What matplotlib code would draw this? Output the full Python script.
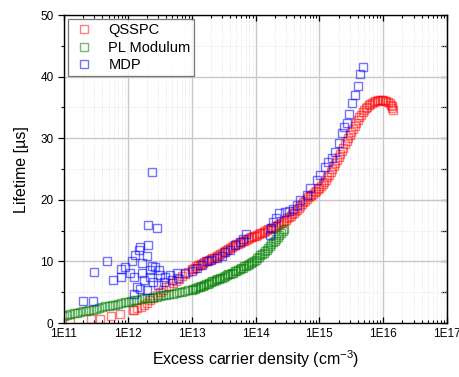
import numpy as np
import matplotlib
matplotlib.use('Agg')
import matplotlib.pyplot as plt
from matplotlib.ticker import FixedLocator, FuncFormatter, MultipleLocator

plt.rcParams['font.family'] = ['Liberation Sans', 'DejaVu Sans']
plt.rcParams['mathtext.default'] = 'regular'

# QSSPC: log10(density), lifetime [us]
qsspc_logn = [11.09, 11.43, 11.56, 11.73, 11.87, 12.08,
              12.10, 12.15, 12.20, 12.25, 12.30, 12.35, 12.40, 12.45, 12.50, 12.55,
              12.60, 12.65, 12.70, 12.75, 12.80, 12.85, 12.90, 12.95,
              13.000, 13.025, 13.050, 13.075, 13.100, 13.125, 13.150, 13.175,
              13.200, 13.225, 13.250, 13.275, 13.300, 13.325, 13.350, 13.375,
              13.400, 13.425, 13.450, 13.475, 13.500, 13.525, 13.550, 13.575,
              13.600, 13.625, 13.650, 13.675, 13.700, 13.725, 13.750, 13.775,
              13.800, 13.825, 13.850, 13.875, 13.900, 13.925, 13.950, 13.975,
              14.000, 14.025, 14.050, 14.075, 14.100, 14.125, 14.150, 14.175,
              14.200, 14.225, 14.250, 14.275, 14.300, 14.325, 14.350, 14.375,
              14.400, 14.425, 14.450, 14.475, 14.500, 14.525, 14.550, 14.575,
              14.600, 14.625, 14.650, 14.675, 14.700, 14.725, 14.750, 14.775,
              14.800, 14.825, 14.850, 14.875, 14.900, 14.925, 14.950, 14.975,
              15.000, 15.025, 15.050, 15.075, 15.100, 15.125, 15.150, 15.175,
              15.200, 15.225, 15.250, 15.275, 15.300, 15.325, 15.350, 15.375,
              15.400, 15.425, 15.450, 15.475, 15.500, 15.525, 15.550, 15.575,
              15.600, 15.625, 15.650, 15.675, 15.700, 15.725, 15.750, 15.775,
              15.800, 15.825, 15.850, 15.875, 15.900, 15.925, 15.950, 15.975,
              16.000, 16.025, 16.050, 16.075, 16.100, 16.115, 16.130, 16.140,
              16.150]
qsspc_tau = [0.2, 0.7, 0.7, 1.1, 1.4, 2.2,
             2.2, 2.4, 2.6, 2.9, 3.3, 3.7, 4.1, 4.5, 5.0, 5.4,
             5.8, 6.1, 6.5, 6.8, 7.2, 7.6, 8.0, 8.3,
             8.7, 8.85, 9.0, 9.2, 9.4, 9.5, 9.6, 9.75,
             9.9, 10.0, 10.1, 10.25, 10.4, 10.5, 10.6, 10.75,
             10.9, 11.05, 11.2, 11.4, 11.6, 11.75, 11.9, 12.05,
             12.2, 12.35, 12.5, 12.65, 12.8, 12.9, 13.0, 13.15,
             13.3, 13.4, 13.5, 13.65, 13.8, 13.9, 14.0, 14.1,
             14.2, 14.3, 14.4, 14.55, 14.7, 14.8, 14.9, 15.05,
             15.2, 15.3, 15.4, 15.5, 15.6, 15.75, 15.9, 16.1,
             16.3, 16.45, 16.6, 16.8, 17.0, 17.2, 17.4, 17.65,
             17.9, 18.15, 18.4, 18.7, 19.0, 19.3, 19.6, 19.9,
             20.2, 20.4, 20.6, 20.8, 21.0, 21.25, 21.5, 21.75,
             22.0, 22.3, 22.6, 22.95, 23.3, 23.7, 24.1, 24.55,
             25.0, 25.5, 26.0, 26.5, 27.0, 27.5, 28.0, 28.5,
             29.0, 29.5, 30.0, 30.5, 31.0, 31.5, 32.0, 32.5,
             33.0, 33.4, 33.8, 34.2, 34.6, 34.85, 35.1, 35.35,
             35.6, 35.75, 35.9, 36.0, 36.1, 36.15, 36.2, 36.2,
             36.2, 36.1, 36.0, 35.85, 35.7, 35.45, 35.2, 34.9,
             34.6]

# PL Modulum
pl_logn = [11.00, 11.05, 11.10, 11.15, 11.20, 11.25, 11.30, 11.35, 11.40, 11.45,
           11.50, 11.55, 11.60, 11.65, 11.70, 11.75, 11.80, 11.85, 11.90, 11.95,
           12.00, 12.05, 12.10, 12.15, 12.20, 12.25, 12.30, 12.35, 12.40, 12.45,
           12.50, 12.55, 12.60, 12.65, 12.70, 12.75, 12.80, 12.85, 12.90, 12.95,
           13.00, 13.025, 13.05, 13.075, 13.10, 13.125, 13.15, 13.175, 13.20, 13.225,
           13.25, 13.275, 13.30, 13.325, 13.35, 13.375, 13.40, 13.425, 13.45, 13.475,
           13.50, 13.525, 13.55, 13.575, 13.60, 13.625, 13.65, 13.675, 13.70, 13.725,
           13.75, 13.775, 13.80, 13.825, 13.85, 13.875, 13.90, 13.925, 13.95, 13.975,
           14.00, 14.025, 14.05, 14.075, 14.10, 14.125, 14.15, 14.175, 14.20, 14.225,
           14.25, 14.275, 14.30, 14.325, 14.35, 14.375, 14.40, 14.425, 14.45]
pl_tau = [1.2, 1.3, 1.4, 1.6, 1.7, 1.8, 1.9, 2.0, 2.1, 2.2,
          2.3, 2.4, 2.6, 2.7, 2.8, 2.9, 3.0, 3.1, 3.2, 3.4,
          3.5, 3.6, 3.7, 3.8, 3.9, 4.0, 4.1, 4.1, 4.2, 4.3,
          4.4, 4.5, 4.6, 4.7, 4.8, 4.9, 5.0, 5.1, 5.2, 5.3,
          5.4, 5.5, 5.6, 5.7, 5.8, 5.9, 6.0, 6.1, 6.2, 6.3,
          6.4, 6.5, 6.6, 6.8, 6.9, 7.0, 7.1, 7.2, 7.3, 7.4,
          7.5, 7.7, 7.8, 7.9, 8.0, 8.1, 8.2, 8.4, 8.5, 8.6,
          8.7, 8.9, 9.0, 9.2, 9.3, 9.5, 9.6, 9.8, 9.9, 10.1,
          10.3, 10.5, 10.7, 11.0, 11.2, 11.4, 11.7, 11.9, 12.2, 12.5,
          12.8, 13.1, 13.4, 13.7, 14.0, 14.3, 14.6, 14.9, 15.2]

# MDP
mdp_logn = [11.30, 11.46, 11.47, 11.67, 11.77, 11.89, 11.90, 11.96, 12.03, 12.06,
            12.09, 12.09, 12.11, 12.14, 12.17, 12.19, 12.19, 12.22, 12.22, 12.25,
            12.30, 12.30, 12.32, 12.32, 12.34, 12.35, 12.38, 12.38, 12.40, 12.43,
            12.45, 12.48, 12.49, 12.50, 12.56, 12.58, 12.66, 12.69, 12.77, 12.79,
            12.90, 13.00, 13.08, 13.16, 13.24, 13.31, 13.39, 13.47, 13.52, 13.60,
            13.68, 13.76, 13.81, 13.85, 14.23, 14.25, 14.28, 14.32, 14.36, 14.46,
            14.52, 14.59, 14.65, 14.70, 14.80, 14.86, 14.96, 15.01, 15.09, 15.14,
            15.20, 15.25, 15.30, 15.35, 15.39, 15.43, 15.47, 15.51, 15.56, 15.60,
            15.64, 15.68]
mdp_tau = [3.6, 3.6, 8.3, 10.0, 7.0, 7.5, 8.7, 9.1, 8.1, 10.0,
           7.5, 4.8, 11.0, 5.9, 11.9, 12.4, 5.6, 9.7, 8.1, 7.0,
           10.9, 5.4, 12.7, 15.9, 7.5, 8.6, 9.3, 24.6, 6.7, 9.1,
           15.5, 6.2, 8.6, 7.8, 6.7, 7.5, 7.8, 7.0, 8.1, 7.3,
           8.1, 8.4, 8.9, 9.4, 10.0, 10.2, 10.5, 10.9, 11.6, 11.9,
           12.7, 13.2, 13.7, 14.4, 14.3, 15.4, 16.4, 17.0, 17.8, 18.0,
           18.2, 18.6, 19.2, 20.0, 20.8, 22.0, 23.2, 24.0, 25.4, 26.2,
           26.8, 27.8, 29.2, 30.8, 31.8, 32.5, 34.0, 35.7, 37.0, 38.5,
           40.5, 41.5]

xtick_exp = [11, 12, 13, 14, 15, 16, 17]

fig = plt.figure(figsize=(4.6, 3.77), dpi=100)
ax = fig.add_axes([0.139, 0.143, 0.833, 0.817])

ms = 5.2
ax.plot(10.0 ** np.array(qsspc_logn), qsspc_tau, 's', ms=ms, mfc='none',
        mec=(1, 0, 0, 0.5), mew=1.0, label='QSSPC')
ax.plot(10.0 ** np.array(pl_logn), pl_tau, 's', ms=ms, mfc='none',
        mec=(0, 0.5, 0, 0.55), mew=1.0, label='PL Modulum')
ax.plot(10.0 ** np.array(mdp_logn), mdp_tau, 's', ms=ms, mfc='none',
        mec=(0, 0, 1, 0.55), mew=1.0, label='MDP')

ax.set_xscale('log')
ax.set_xlim(1e11, 1e17)
ax.set_ylim(0, 50)

ax.xaxis.set_major_locator(FixedLocator([10.0 ** e for e in xtick_exp]))
ax.xaxis.set_major_formatter(FuncFormatter(lambda v, p: '1E%d' % round(np.log10(v))))
minors = [m * 10.0 ** e for e in xtick_exp[:-1] for m in range(2, 10)]
ax.xaxis.set_minor_locator(FixedLocator(minors))
ax.xaxis.set_minor_formatter(FuncFormatter(lambda v, p: ''))
ax.yaxis.set_major_locator(MultipleLocator(10))
ax.yaxis.set_minor_locator(MultipleLocator(5))

ax.grid(which='major', color='#c8c8c8', lw=1.0)
ax.grid(which='minor', color='#dddddd', lw=0.6, ls=':')
ax.set_axisbelow(True)

ax.tick_params(axis='x', which='both', direction='in', top=True, labelsize=8.5,
               colors='black')
ax.tick_params(axis='x', which='major', length=4, width=0.9)
ax.tick_params(axis='x', which='minor', length=2.5, width=0.8)
ax.tick_params(axis='y', which='both', direction='out', labelsize=8.5)
ax.tick_params(axis='y', which='major', length=4, width=0.9)
ax.tick_params(axis='y', which='minor', length=2.5, width=0.8)

sec = ax.secondary_yaxis('right')
sec.yaxis.set_major_locator(MultipleLocator(10))
sec.yaxis.set_minor_locator(MultipleLocator(5))
sec.tick_params(axis='y', which='both', direction='in', labelright=False)
sec.tick_params(axis='y', which='major', length=4, width=0.9)
sec.tick_params(axis='y', which='minor', length=4, width=0.9)

for s in ax.spines.values():
    s.set_linewidth(1.0)

ax.set_xlabel('Excess carrier density (cm$^{-3}$)', fontsize=11.5, labelpad=6)
ax.set_ylabel('Lifetime [µs]', fontsize=11.5, labelpad=8)

leg = ax.legend(loc='upper left', fontsize=10.5, frameon=True, fancybox=False,
                borderaxespad=0.3, handletextpad=0.9, labelspacing=0.25,
                handlelength=1.6, borderpad=0.25)
leg.get_frame().set_edgecolor('#555555')
leg.get_frame().set_linewidth(0.9)

fig.savefig('out.png', dpi=100)
